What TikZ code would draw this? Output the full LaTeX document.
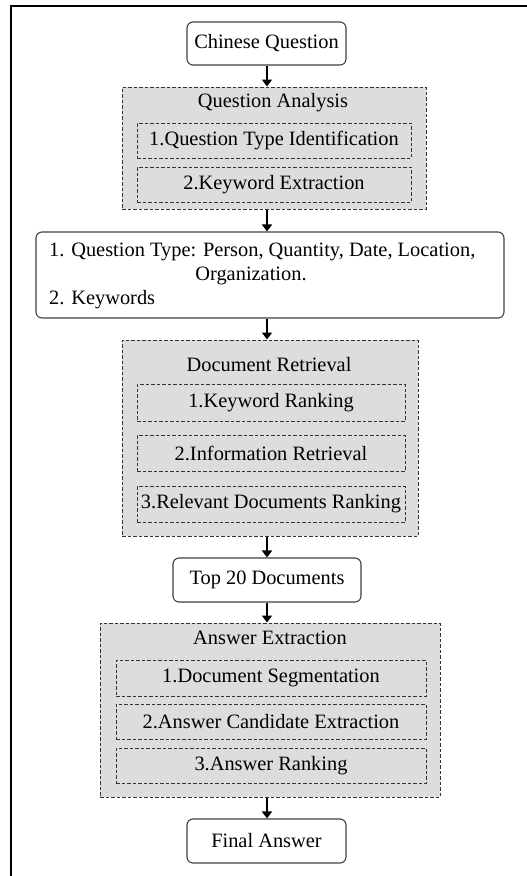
\documentclass[tikz,border=0pt]{standalone}
\usepackage{fontspec}
\setmainfont{Liberation Serif}
\usetikzlibrary{arrows.meta}
\definecolor{boxgray}{HTML}{DDDDDD}
\tikzset{
  rbox/.style={draw=black!75, line width=1.1pt, rounded corners=6pt, fill=white, inner sep=0pt, font=\fontsize{20.4}{24}\selectfont},
  groupbox/.style={draw=black!80, line width=1pt, dash pattern=on 3.5pt off 2pt, fill=boxgray, inner sep=0pt},
  subbox/.style={draw=black!80, line width=1pt, dash pattern=on 3.5pt off 2pt, inner sep=0pt, font=\fontsize{20.4}{24}\selectfont},
  lbl/.style={inner sep=0pt, font=\fontsize{20.4}{24}\selectfont},
  flow/.style={line width=2.6pt, -{Triangle[length=7pt,width=10pt]}},
}
\begin{document}
\begin{tikzpicture}[x=1pt,y=-1pt]
\useasboundingbox (0,0) rectangle (527,876);
% frame (top and left only)
\coordinate (ftl) at (11,6);
\coordinate (ftr) at (527,6);
\coordinate (fbl) at (11,876);
\draw[line width=1.6pt] (ftr) -- (ftl) -- (fbl);

% Chinese Question
\node[rbox, minimum width=159pt, minimum height=43pt] (cq) at (266.5,43.5) {Chinese Question};

% Question Analysis
\node[groupbox, minimum width=304pt, minimum height=122pt] (qa) at (274,148) {};
\node[lbl] (qat) at (273,103) {Question Analysis};
\node[subbox, minimum width=274pt, minimum height=35pt] (qa1) at (274,140.5) {1.Question Type Identification};
\node[subbox, minimum width=274pt, minimum height=35pt] (qa2) at (274,184.5) {2.Keyword Extraction};

% Result box
\node[rbox, minimum width=468pt, minimum height=86pt] (res) at (270,275) {};
\node[lbl, anchor=west] (res1) at (49,252) {1. Question Type: Person, Quantity, Date, Location,};
\node[lbl] (res2) at (251,276) {Organization.};
\node[lbl, anchor=west] (res3) at (49,300) {2. Keywords};

% Document Retrieval
\node[groupbox, minimum width=296pt, minimum height=196pt] (dr) at (270,438) {};
\node[lbl] (drt) at (269,365) {Document Retrieval};
\node[subbox, minimum width=268pt, minimum height=37pt] (dr1) at (271,402.5) {1.Keyword Ranking};
\node[subbox, minimum width=268pt, minimum height=36pt] (dr2) at (271,453) {2.Information Retrieval};
\node[subbox, minimum width=268pt, minimum height=36pt] (dr3) at (271,504) {3.Relevant Documents Ranking};

% Top 20 Documents
\node[rbox, minimum width=188pt, minimum height=44pt] (top) at (267,580) {Top 20 Documents};

% Answer Extraction
\node[groupbox, minimum width=340pt, minimum height=174pt] (ae) at (270,710) {};
\node[lbl] (aet) at (270,638) {Answer Extraction};
\node[subbox, minimum width=310pt, minimum height=36pt] (ae1) at (271,678) {1.Document Segmentation};
\node[subbox, minimum width=310pt, minimum height=35pt] (ae2) at (271,721.5) {2.Answer Candidate Extraction};
\node[subbox, minimum width=310pt, minimum height=35pt] (ae3) at (271,765.5) {3.Answer Ranking};

% Final Answer
\node[rbox, minimum width=159pt, minimum height=44pt] (fa) at (266.5,841) {Final Answer};

% arrows
\draw[flow] (cq.south -| 267,0) -- (qa.north -| 267,0);
\draw[flow] (qa.south -| 267,0) -- (res.north -| 267,0);
\draw[flow] (res.south -| 267,0) -- (dr.north -| 267,0);
\draw[flow] (dr.south -| 267,0) -- (top.north -| 267,0);
\draw[flow] (top.south -| 267,0) -- (ae.north -| 267,0);
\draw[flow] (ae.south -| 267,0) -- (fa.north -| 267,0);
\end{tikzpicture}
\end{document}
